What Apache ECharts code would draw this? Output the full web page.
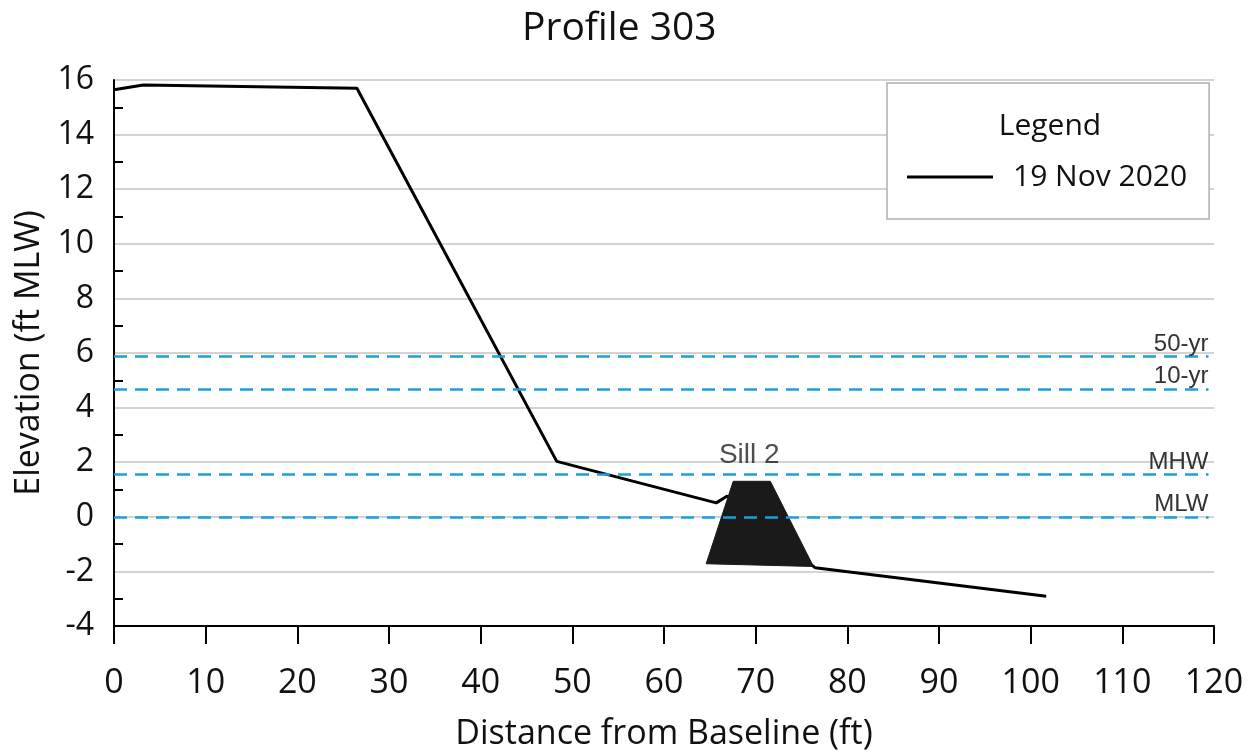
<!DOCTYPE html>
<html>
<head>
<meta charset="utf-8">
<script src="https://cdn.jsdelivr.net/npm/echarts@6/dist/echarts.min.js"></script>
<style>
  html, body { margin: 0; padding: 0; background: #fff; }
  #chart { width: 1254px; height: 756px; }
</style>
</head>
<body>
<div id="chart"></div>
<script>
// profile survey line
const profileX = [0, 3.2, 26.5, 48.3, 65.7, 66.9, 76.5, 101.7]
const profileY = [15.64, 15.82, 15.70, 2.03, 0.51, 0.76, -1.87, -2.91]

// sill outline (trapezoid)
const sillX = [64.6, 67.55, 71.6, 76.3]
const sillY = [-1.72, 1.30, 1.30, -1.82]
const sillLabel = ['Sill 2', 69.3, 2.25]

// water levels
const levelNames = ['50-yr', '10-yr', 'MHW', 'MLW']
const levelValues = [5.89, 4.69, 1.56, 0]

const xTicks = [0, 120, 10]
const yTicks = [-4, 16, 2]

const myChart = echarts.init(document.getElementById('chart'))
const font = 'Open Sans'

const option = {
  backgroundColor: '#fff',
  animation: false,
  title: {
    text: 'Profile 303',
    left: 522,
    top: 9,
    padding: 0,
    textStyle: { fontFamily: font, fontSize: 39, fontWeight: 'normal', color: '#111' }
  },
  legend: {
    data: [{ name: '19 Nov 2020', icon: 'rect' }],
    left: 887,
    top: 83,
    padding: [79, 22, 27, 20],
    itemWidth: 86,
    itemHeight: 3,
    borderColor: '#b0b0b0',
    borderWidth: 1.5,
    backgroundColor: '#fff',
    itemStyle: { color: '#000' },
    textStyle: { fontFamily: font, fontSize: 30, color: '#111', padding: [0, 0, 0, 15] }
  },
  graphic: [{
    type: 'text',
    x: 1050,
    y: 126,
    style: {
      text: 'Legend',
      font: '30px "Open Sans"',
      fill: '#111',
      textAlign: 'center',
      textVerticalAlign: 'middle'
    },
    z: 100
  }],
  grid: { left: 114, right: 40, top: 80, bottom: 126 },
  xAxis: {
    type: 'value',
    min: xTicks[0],
    max: xTicks[1],
    interval: xTicks[2],
    name: 'Distance from Baseline (ft)',
    nameLocation: 'middle',
    nameGap: 91,
    nameTextStyle: { fontFamily: font, fontSize: 34, color: '#111' },
    axisLine: { onZero: false, lineStyle: { color: '#000', width: 2 } },
    axisTick: { length: 18, lineStyle: { color: '#000', width: 2 } },
    axisLabel: { margin: 40, fontFamily: font, fontSize: 34, color: '#111' },
    splitLine: { show: false }
  },
  yAxis: {
    type: 'value',
    min: yTicks[0],
    max: yTicks[1],
    interval: yTicks[2],
    name: 'Elevation (ft MLW)',
    nameLocation: 'middle',
    nameRotate: 90,
    nameGap: 62,
    nameTextStyle: { fontFamily: font, fontSize: 34, color: '#111' },
    axisLine: { show: true, onZero: false, lineStyle: { color: '#000', width: 2 } },
    axisTick: { show: false, inside: true },
    minorTick: { show: true, splitNumber: 2, length: 9, lineStyle: { color: '#000', width: 2 } },
    axisLabel: { margin: 20, fontFamily: font, fontSize: 32, color: '#111' },
    splitLine: { show: true, lineStyle: { color: '#c4c4c4', width: 1.5 } }
  },
  series: [
    {
      name: '19 Nov 2020',
      type: 'line',
      data: profileX.map((x, i) => [x, profileY[i]]),
      symbol: 'none',
      lineStyle: { color: '#000', width: 3 },
      itemStyle: { color: '#000' },
      z: 3,
      markLine: {
        silent: true,
        symbol: ['none', 'none'],
        lineStyle: { type: [13, 8], color: '#1d9fd9', width: 2.5 },
        label: {
          show: true,
          position: 'insideEndTop',
          distance: 0,
          formatter: (p) => p.name,
          fontFamily: 'Liberation Sans',
          fontSize: 24,
          color: '#333'
        },
        data: levelValues.map((v, i) => [
          { name: levelNames[i], coord: [0, v] },
          { coord: [119.4, v] }
        ])
      }
    },
    {
      name: 'sill',
      type: 'custom',
      data: sillX.map((x, i) => [x, sillY[i]]),
      z: 4,
      silent: true,
      renderItem: (params, api) => {
        if (params.dataIndex !== 0) return null
        const pts = sillX.map((x, i) => api.coord([x, sillY[i]]))
        return {
          type: 'polygon',
          shape: { points: pts },
          style: { fill: '#1a1a1a', stroke: '#1a1a1a', lineWidth: 1 }
        }
      }
    },
    {
      name: 'sillLabel',
      type: 'scatter',
      data: [[sillLabel[1], sillLabel[2]]],
      symbolSize: 0,
      silent: true,
      label: {
        show: true,
        position: 'inside',
        formatter: sillLabel[0],
        fontFamily: 'Liberation Sans',
        fontSize: 28,
        color: '#222'
      }
    }
  ]
}

myChart.setOption(option)

window.addEventListener('resize', () => {
  myChart.resize()
})
</script>
</body>
</html>
